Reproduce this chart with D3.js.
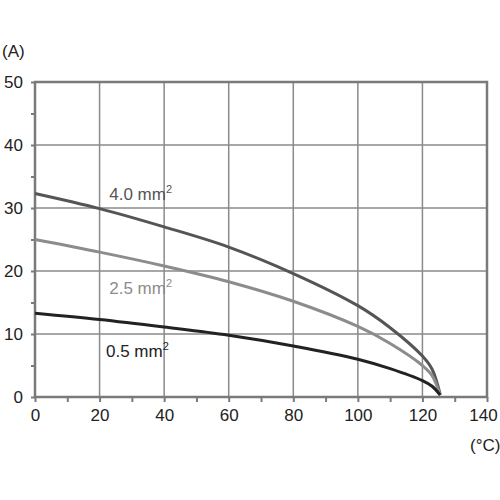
<!DOCTYPE html>
<html><head><meta charset="utf-8">
<script src="https://cdn.jsdelivr.net/npm/d3@7"></script>
<style>body{margin:0;background:#fff}</style>
</head><body><div id="chart"></div>
<script>
// data
var temps = [0, 20, 40, 60, 80, 100, 110, 120, 123, 125.5];
var s40 = [32.3, 29.9, 27.0, 23.8, 19.6, 14.5, 11.0, 6.5, 4.4, 0.4];
var s25 = [25.0, 23.0, 20.8, 18.3, 15.2, 11.2, 8.5, 5.0, 3.4, 0.3];
var s05 = [13.3, 12.3, 11.1, 9.8, 8.1, 6.0, 4.5, 2.6, 1.7, 0.3];
var seriesNames = ["4.0 mm", "2.5 mm", "0.5 mm"];
var xTicks = [0, 20, 40, 60, 80, 100, 120, 140];
var yTicks = [0, 10, 20, 30, 40, 50];

var w = 500, h = 500,
    font = "'Liberation Sans',Arial,sans-serif",
    svg = d3.select("#chart").append("svg").attr("width", w).attr("height", h),
    x = d3.scaleLinear().domain([0, 140]).range([35, 487]),
    y = d3.scaleLinear().domain([0, 50]).range([397, 82]);

// grid
svg.append("g").selectAll("line").data(xTicks.slice(1, -1)).enter().append("line")
    .attr("x1", d => x(d)).attr("x2", d => x(d)).attr("y1", y(0)).attr("y2", y(50))
    .attr("stroke", "#8a8a8a").attr("stroke-width", 1.5);
svg.append("g").selectAll("line").data(yTicks.slice(1, -1)).enter().append("line")
    .attr("x1", x(0)).attr("x2", x(140)).attr("y1", d => y(d)).attr("y2", d => y(d))
    .attr("stroke", "#8a8a8a").attr("stroke-width", 1.5);
svg.append("rect").attr("x", x(0)).attr("y", y(50))
    .attr("width", x(140) - x(0)).attr("height", y(0) - y(50))
    .attr("fill", "none").attr("stroke", "#7a7a7a").attr("stroke-width", 2.5);

// axes
var xa = svg.append("g").attr("transform", "translate(0," + y(0) + ")")
    .call(d3.axisBottom(x).tickValues(d3.range(0, 141, 10)).tickSize(5)
        .tickFormat(d => d % 20 ? "" : d));
var ya = svg.append("g").attr("transform", "translate(" + x(0) + ",0)")
    .call(d3.axisLeft(y).tickValues(d3.range(0, 51, 5)).tickSize(4)
        .tickFormat(d => d % 10 ? "" : d));
[xa, ya].forEach(function(a) {
    a.select(".domain").remove();
    a.selectAll("line").attr("stroke", "#7a7a7a").attr("stroke-width", 2);
    a.selectAll("text").attr("font-family", font).attr("font-size", 17).attr("fill", "#222");
});
xa.selectAll("text").attr("dy", "0.95em");
xa.selectAll("text").filter(d => d == 140).attr("dx", -4);
ya.selectAll("text").attr("x", -12);

// curves
var line = d3.line().x((d, i) => x(temps[i])).y(d => y(d)).curve(d3.curveCatmullRom);
var series = [s40, s25, s05], colors = ["#555", "#8c8c8c", "#222"];
series.forEach(function(s, i) {
    svg.append("path").datum(s).attr("d", line).attr("fill", "none")
        .attr("stroke", colors[i]).attr("stroke-width", 3);
});

// labels
var lab = [[23, 31.2], [23, 16.3], [22, 6.3]];
seriesNames.forEach(function(n, i) {
    var t = svg.append("text").attr("x", x(lab[i][0])).attr("y", y(lab[i][1]))
        .attr("font-family", font).attr("font-size", 17).attr("fill", colors[i]);
    t.append("tspan").text(n);
    t.append("tspan").attr("dy", -7).attr("font-size", 11).text("2");
});
svg.append("text").attr("x", 2).attr("y", 57).attr("font-family", font)
    .attr("font-size", 17).attr("fill", "#222").text("(A)");
svg.append("text").attr("x", 470).attr("y", 451).attr("font-family", font)
    .attr("font-size", 17).attr("fill", "#222").text("(°C)");
</script></body></html>
